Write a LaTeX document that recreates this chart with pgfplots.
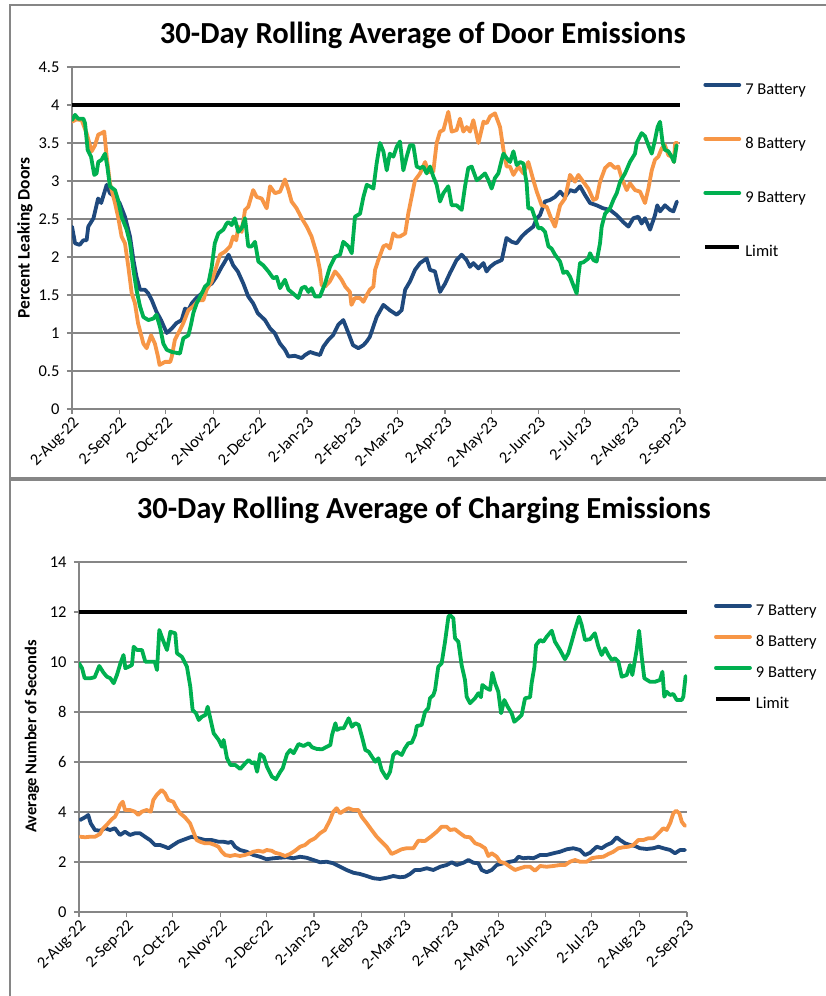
\documentclass[border=0pt]{standalone}
\usepackage{pgfplots}
\pgfplotsset{compat=1.18}
\usepackage{fontspec}
\setmainfont{Carlito}
\definecolor{bat7}{RGB}{31,73,125}
\definecolor{bat8}{RGB}{247,150,70}
\definecolor{bat9}{RGB}{0,176,80}
\definecolor{gridgray}{RGB}{134,134,134}
\pgfplotsset{
  excelstyle/.style={
    anchor=south west, scale only axis, width=608bp,
    xmin=0, xmax=396,
    xtick={0,31,61,92,122,153,184,212,243,273,304,334,365,396},
    xticklabels={2-Aug-22,2-Sep-22,2-Oct-22,2-Nov-22,2-Dec-22,2-Jan-23,2-Feb-23,2-Mar-23,2-Apr-23,2-May-23,2-Jun-23,2-Jul-23,2-Aug-23,2-Sep-23},
    xticklabel style={rotate=45, anchor=north east, inner sep=1bp},
    yticklabel style={xshift=-4bp},
    /pgf/number format/assume math mode=true,
    tick label style={font=\fontsize{16.5bp}{19bp}\selectfont, black},
    axis x line*=bottom, axis y line*=left,
    axis line style={gridgray, line width=1.3bp, -},
    tick style={gridgray, line width=1.3bp},
    tick align=outside, major tick length=5bp,
    ymajorgrids, grid style={gridgray, line width=1.3bp},
    every axis plot/.append style={line width=3.8bp, line join=round, line cap=round, mark=none},
    legend cell align=left,
    legend image code/.code={\draw[#1] (0bp,5.3bp) -- (34bp,5.3bp);},
    ylabel style={font=\bfseries\fontsize{16.5bp}{19bp}\selectfont, anchor=center},
    title style={font=\bfseries\fontsize{30.6bp}{34bp}\selectfont, anchor=base},
  }
}
\begin{document}
\begin{tikzpicture}
\useasboundingbox (0,0) rectangle (826bp,996bp);
\fill[white] (0,0) rectangle (826bp,996bp);
\draw[gridgray, line width=1.3bp] (10bp,518bp) rectangle (840bp,991bp);
\draw[gridgray, line width=1.3bp] (10bp,-10bp) -- (10bp,516bp) -- (840bp,516bp);

% ---------- Door emissions ----------
\begin{axis}[excelstyle,
  at={(72bp,587bp)}, height=342bp,
  ymin=0, ymax=4.5, ytick={0,0.5,1,1.5,2,2.5,3,3.5,4,4.5},
  title={30-Day Rolling Average of Door Emissions},
  title style={at={(axis description cs:0.577,1.052)}},
  ylabel={Percent Leaking Doors},
  ylabel style={at={(axis description cs:-0.0773,0.5)}, font=\bfseries\fontsize{17.5bp}{19bp}\selectfont},
  legend style={at={(axis description cs:1.038,0.956)}, anchor=north west, draw=none, fill=none, inner sep=0pt, row sep=38bp, column sep=4bp,
    font=\fontsize{16.5bp}{19bp}\selectfont, nodes={inner sep=0pt, text height=12bp, text depth=4bp}},
]
\addplot[bat7] coordinates {(0,2.40) (2,2.18) (5,2.16) (7.4,2.22) (9.5,2.22) (10.6,2.40) (14,2.51) (17,2.77) (19,2.71) (22.6,2.95) (24.7,2.84) (28,2.79) (31,2.71) (34.5,2.53) (37.8,2.27) (40,1.96) (42,1.74) (44.3,1.57) (47.5,1.57) (49.7,1.52) (52,1.43) (55,1.28) (58,1.17) (61.7,1.00) (65,1.06) (68,1.13) (71.4,1.17) (73.6,1.32) (75.8,1.30) (78,1.39) (81,1.46) (84.5,1.52) (87.7,1.61) (91,1.65) (94,1.74) (97.5,1.87) (99.6,1.94) (102,2.03) (105,1.89) (108,1.81) (111.6,1.65) (114.8,1.48) (118,1.39) (121,1.26) (125.7,1.17) (129,1.06) (132,1.00) (135.5,0.86) (138.7,0.78) (141,0.69) (145,0.70) (149.6,0.67) (151.8,0.71) (155,0.75) (158,0.73) (161.5,0.71) (163.7,0.82) (167,0.91) (170,0.97) (173.5,1.11) (176.7,1.17) (180,1.00) (183,0.84) (186.5,0.80) (189.8,0.84) (192,0.89) (194,0.95) (198.4,1.21) (202.8,1.37) (207,1.30) (211.5,1.24) (214.7,1.30) (217,1.57) (220.2,1.68) (223.4,1.83) (226.7,1.92) (231,1.98) (233.2,1.83) (236.4,1.81) (239.7,1.54) (243,1.65) (246.2,1.79) (250.5,1.96) (253.8,2.03) (257,1.96) (259.2,1.87) (261.4,1.92) (264.7,1.85) (268,1.92) (270,1.81) (272.3,1.87) (275.5,1.92) (279.9,1.96) (283,2.25) (286.4,2.20) (289.6,2.18) (292.9,2.27) (296,2.33) (300.5,2.40) (302.7,2.51) (304.8,2.55) (308,2.73) (311.3,2.75) (314.6,2.79) (317.9,2.86) (321,2.79) (324.4,2.88) (327.6,2.86) (330.9,2.93) (334,2.82) (337.4,2.71) (341.7,2.68) (346,2.64) (350.4,2.62) (354.8,2.55) (359,2.46) (362.4,2.40) (365.6,2.51) (368.9,2.53) (371,2.44) (373.2,2.51) (376.5,2.36) (379.7,2.55) (381.2,2.68) (383,2.60) (386.2,2.68) (389.5,2.62) (391.7,2.60) (394,2.73)};
\addlegendentry{7 Battery}
\addplot[bat8] coordinates {(0,3.78) (3,3.81) (6.3,3.80) (9.5,3.63) (12.8,3.39) (15,3.47) (17.1,3.61) (19.3,3.63) (21,3.65) (22.6,3.32) (24.7,2.97) (28,2.71) (30,2.53) (32.3,2.27) (34.5,2.18) (36.7,1.87) (38.9,1.52) (41,1.39) (43,1.13) (46.5,0.86) (48.6,0.80) (51.5,0.97) (54,0.86) (56,0.69) (57,0.58) (60.6,0.62) (64,0.62) (65,0.69) (67,0.91) (70.3,1.04) (72.5,1.13) (75.8,1.30) (79,1.35) (82.3,1.43) (85.5,1.43) (87.7,1.57) (91,1.68) (94,1.87) (96.4,2.03) (99.6,2.07) (103,2.14) (105,2.27) (107,2.22) (108.3,2.40) (110.5,2.33) (112.7,2.62) (114.8,2.66) (118,2.88) (120.3,2.79) (123.5,2.77) (126.8,2.64) (129,2.93) (132.2,2.84) (135.5,2.86) (138.7,3.02) (141,2.88) (143,2.73) (146.3,2.64) (149.6,2.51) (152.9,2.40) (156,2.27) (159.3,2.05) (161.5,1.83) (162.6,1.63) (164.8,1.61) (168,1.68) (171.3,1.81) (173.5,1.76) (175.6,1.70) (178,1.61) (181,1.54) (182,1.37) (184.3,1.46) (187.6,1.46) (189.8,1.41) (192,1.50) (194,1.57) (196.3,1.61) (197.4,1.83) (199.5,1.96) (202.8,2.14) (205,2.16) (207,2.11) (209.3,2.31) (211.5,2.27) (213.6,2.27) (217,2.31) (219,2.57) (221.2,2.79) (223.4,3.01) (226.7,3.10) (230,3.25) (232,3.12) (235.3,3.12) (237.5,3.50) (239.7,3.65) (241.9,3.67) (245.1,3.91) (247.3,3.65) (250.5,3.67) (252.7,3.82) (254.9,3.65) (257.1,3.71) (259.2,3.65) (261.4,3.80) (264.7,3.50) (268,3.78) (270.1,3.76) (272.3,3.85) (275.5,3.89) (278.8,3.71) (281,3.41) (283.1,3.19) (285.3,3.19) (287.5,3.08) (290.7,3.19) (294,3.10) (297.2,3.25) (300.5,3.01) (302.7,2.86) (305.9,2.68) (309.2,2.66) (312.4,2.49) (314.6,2.40) (317.9,2.68) (321.1,2.77) (324.4,3.08) (327.6,2.99) (329.8,3.08) (333,2.99) (336.3,2.90) (339.6,2.75) (341.7,2.77) (343.9,2.99) (347.2,3.17) (350.4,3.23) (353.7,3.17) (355.8,3.19) (358,3.04) (361.3,2.88) (363.4,2.97) (366.7,2.88) (370,2.86) (373.2,2.71) (375.4,2.90) (377.6,3.14) (379.7,3.28) (381.9,3.32) (384.1,3.43) (386.2,3.47) (388.4,3.34) (390.6,3.32) (392.1,3.25) (392.8,3.50) (394.3,3.50)};
\addlegendentry{8 Battery}
\addplot[bat9] coordinates {(0,3.80) (2,3.87) (4,3.82) (7.4,3.82) (8.5,3.76) (10.2,3.41) (12.4,3.32) (14.5,3.08) (16,3.10) (17.1,3.25) (19.3,3.28) (21.5,3.36) (23,3.19) (24.7,2.93) (28,2.88) (30,2.75) (32.3,2.53) (35.6,2.36) (37.8,2.18) (40,1.83) (42,1.57) (44.3,1.35) (46.5,1.21) (49.7,1.17) (53,1.19) (55,1.24) (57.3,1.08) (59.5,0.86) (61.7,0.78) (65,0.75) (70.3,0.73) (72.5,0.93) (75.8,0.97) (77.5,1.11) (79,1.26) (81.2,1.39) (84.5,1.52) (86.6,1.61) (88.8,1.65) (91,1.87) (93,2.18) (95.3,2.31) (98.6,2.36) (100.7,2.44) (101.8,2.46) (104,2.42) (106,2.51) (108.3,2.33) (110.5,2.38) (112.7,2.51) (114.8,2.14) (117,2.14) (119.2,2.20) (121.4,1.94) (124.6,1.89) (127.9,1.81) (131.1,1.72) (133.3,1.74) (135.5,1.59) (138.7,1.70) (141,1.57) (144,1.52) (147.4,1.46) (149.6,1.59) (151.8,1.61) (154,1.54) (156,1.59) (158.3,1.48) (161.5,1.48) (164.8,1.65) (168,1.87) (171.3,2.00) (174.6,2.03) (176.7,2.20) (180,2.14) (182.2,2.05) (184.3,2.53) (187.6,2.57) (189.8,2.79) (192,2.95) (194,2.93) (196.3,2.90) (198.4,3.23) (200.6,3.50) (202.8,3.39) (205,3.14) (207,3.36) (209.3,3.32) (211.5,3.45) (213.6,3.52) (215.8,3.14) (218,3.32) (220.1,3.47) (222.3,3.47) (224.5,3.19) (226.7,3.17) (228.8,3.19) (231,3.10) (233.2,3.19) (235.3,3.06) (237.5,2.95) (239.7,2.73) (241.9,2.84) (245.1,2.93) (247.3,2.68) (250.5,2.68) (253.8,2.62) (256,2.93) (258.1,3.17) (260.3,3.19) (263.6,3.01) (265.7,3.04) (269,3.10) (271.2,3.01) (273.3,2.90) (275.5,3.04) (277.7,3.10) (279.9,3.28) (281,3.36) (283.1,3.30) (285.3,3.25) (287.5,3.39) (289.6,3.21) (291.8,3.25) (294,3.23) (296.1,2.97) (297.2,2.64) (299.4,2.64) (301.6,2.51) (303.7,2.38) (305.9,2.38) (308.1,2.33) (310.3,2.14) (312.4,2.11) (314.6,2.03) (317.9,1.94) (320,1.79) (322.2,1.81) (324.4,1.74) (326.5,1.63) (328.7,1.52) (329.8,1.74) (330.9,1.92) (333,1.93) (336.3,1.98) (337.4,2.05) (339.6,1.96) (341.7,1.94) (343.9,2.18) (345,2.40) (347.2,2.57) (350.4,2.64) (352.6,2.75) (354.8,2.84) (357,2.99) (360.2,3.10) (363.4,3.25) (366.7,3.36) (367.8,3.50) (371,3.63) (373.2,3.59) (375.4,3.47) (377.6,3.36) (379.7,3.54) (381.4,3.71) (383,3.78) (384.7,3.50) (386.2,3.41) (388.4,3.39) (390.6,3.32) (392.1,3.25) (393.8,3.47)};
\addlegendentry{9 Battery}
\addplot[black, line width=4bp, line cap=butt] coordinates {(0,4) (396,4)};
\addlegendentry{Limit}
\end{axis}

% ---------- Charging emissions ----------
\begin{axis}[excelstyle,
  at={(79bp,84bp)}, height=350bp,
  ymin=0, ymax=14, ytick={0,2,4,6,8,10,12,14},
  title={30-Day Rolling Average of Charging Emissions},
  title style={at={(axis description cs:0.567,1.106)}},
  ylabel={Average Number of Seconds},
  ylabel style={at={(axis description cs:-0.0773,0.501)}},
  legend style={at={(axis description cs:1.044,0.883)}, anchor=north west, draw=none, fill=none, inner sep=0pt, row sep=15bp, column sep=4bp,
    font=\fontsize{16.5bp}{19bp}\selectfont, nodes={inner sep=0pt, text height=12bp, text depth=4bp}},
]
\addplot[bat7] coordinates {(0.7,3.68) (4,3.79) (6,3.88) (7.6,3.55) (10.4,3.28) (13.7,3.25) (17,3.35) (20.2,3.28) (23.4,3.35) (26.7,3.08) (30,3.21) (33.2,3.08) (36.5,3.15) (39.7,3.15) (43,3.01) (46.2,2.88) (49.5,2.68) (52.8,2.68) (56,2.61) (58.2,2.55) (61.4,2.68) (64.7,2.81) (69,2.91) (73.4,3.01) (77.7,2.95) (82,2.88) (86.4,2.88) (90.8,2.81) (94,2.81) (97.3,2.77) (99.4,2.81) (101.6,2.61) (104.9,2.48) (109.2,2.41) (113.5,2.28) (117.9,2.21) (122.2,2.11) (126.6,2.15) (130.9,2.17) (135.3,2.19) (139.6,2.15) (144,2.21) (148.3,2.17) (152.6,2.08) (157,1.99) (161.3,2.01) (165.6,1.95) (170,1.81) (174.3,1.68) (178.7,1.57) (183,1.52) (187.4,1.44) (191.7,1.35) (196,1.32) (200.4,1.37) (204.7,1.44) (209,1.39) (212.3,1.41) (215.6,1.52) (218.8,1.68) (222.1,1.68) (226.5,1.75) (230.8,1.68) (235.2,1.81) (239.5,1.88) (242.8,1.99) (246,1.88) (250.4,1.97) (253.6,2.08) (256.9,1.97) (260.1,1.95) (262.3,1.68) (265.5,1.59) (268.8,1.68) (272.1,1.88) (276.4,1.95) (280.7,2.01) (284,2.05) (286.2,2.21) (289.4,2.15) (292.7,2.17) (296,2.15) (300.3,2.28) (304.6,2.28) (309,2.35) (313.3,2.41) (317.7,2.51) (322,2.55) (326.3,2.48) (329.6,2.28) (332.9,2.37) (337.2,2.61) (340.4,2.55) (343.7,2.68) (347,2.77) (350.2,2.99) (352.4,2.88) (355.6,2.75) (358.9,2.68) (362.2,2.64) (365.4,2.55) (369.8,2.52) (374.1,2.55) (377.4,2.61) (380.6,2.55) (385,2.48) (388.2,2.35) (391.5,2.48) (394.7,2.48)};
\addlegendentry{7 Battery}
\addplot[bat8] coordinates {(0.7,3.01) (4,2.99) (7.2,3.01) (10.4,3.01) (13.7,3.12) (15.8,3.35) (18,3.48) (21.3,3.71) (23.4,3.81) (25,4.01) (26.7,4.28) (28.5,4.41) (30,4.08) (33.2,4.08) (36.5,4.01) (38.6,3.88) (40.8,4.01) (44,4.08) (46.7,4.01) (48.4,4.48) (50.6,4.68) (53.8,4.88) (56,4.75) (58.2,4.48) (61.4,4.41) (63.6,4.15) (65.8,3.95) (69,3.79) (72.3,3.55) (74.5,3.21) (76.6,2.88) (78.8,2.81) (82,2.75) (85.3,2.75) (88.5,2.68) (90.8,2.61) (93,2.41) (95.2,2.28) (98.4,2.24) (101.6,2.28) (104.9,2.24) (108.1,2.28) (111.4,2.35) (113.5,2.41) (116.8,2.45) (120,2.41) (122.2,2.48) (125.5,2.45) (127.7,2.37) (130.9,2.32) (134.2,2.24) (137.4,2.32) (140.7,2.45) (144,2.61) (147.2,2.68) (150.5,2.85) (153.7,2.95) (157,3.15) (160.2,3.28) (163.5,3.68) (165.6,4.01) (167.8,4.15) (170,3.95) (173.3,4.08) (175.4,4.15) (178.7,4.08) (182,4.08) (184.1,3.81) (187.4,3.55) (190.6,3.28) (193.9,3.01) (197.1,2.81) (200.4,2.61) (203.6,2.32) (206.9,2.41) (210.2,2.51) (213.4,2.55) (217.8,2.55) (221,2.85) (225.4,2.84) (229.7,3.04) (233,3.21) (236.2,3.41) (239.5,3.41) (241.7,3.28) (244.9,3.31) (248.2,3.15) (251.4,3.01) (254.7,2.99) (258,2.75) (261.2,2.68) (264.5,2.55) (266.6,2.24) (268.8,2.35) (272.1,2.21) (274.2,2.01) (277.5,1.95) (280.7,1.81) (284,1.68) (287.3,1.75) (290.5,1.81) (293.8,1.81) (297,1.65) (300.3,1.84) (304.6,1.81) (309,1.84) (313.3,1.88) (316.6,1.88) (319.8,2.01) (323.1,2.08) (326.3,2.01) (330.7,2.01) (333.9,2.15) (337.2,2.19) (341.5,2.21) (344.8,2.32) (348,2.41) (351.3,2.55) (354.6,2.59) (357.8,2.61) (361.1,2.68) (364.3,2.88) (367.6,2.88) (370.8,2.95) (374.1,2.95) (376.3,3.08) (378.4,3.21) (380.6,3.35) (382.8,3.28) (385,3.55) (387.1,3.95) (388.9,4.05) (391,3.95) (392.6,3.61) (394.7,3.44)};
\addlegendentry{8 Battery}
\addplot[bat9] coordinates {(0,9.95) (2,9.75) (3.7,9.35) (7.4,9.35) (10.2,9.39) (13.2,9.84) (16,9.57) (18.2,9.41) (20.4,9.35) (22.6,9.15) (24.7,9.48) (27,9.95) (29,10.28) (30.2,9.75) (32.3,9.81) (34.5,9.88) (35.6,10.61) (37.8,10.48) (41,10.48) (43.2,10.01) (46.5,10.01) (49.3,10.01) (50.8,9.68) (52.3,11.28) (55.1,10.81) (57.3,10.48) (59.5,11.21) (62.7,11.15) (63.8,10.35) (67,10.21) (70.3,9.81) (72.5,9.01) (74,8.08) (76.2,7.95) (78,7.68) (80,7.81) (82.3,7.88) (83.8,8.21) (85.5,7.75) (87.7,7.15) (91,6.88) (93.1,6.61) (94.2,6.88) (96.4,6.15) (98.6,5.88) (101.8,5.88) (105,5.72) (108.3,5.95) (110.5,6.08) (112.7,5.95) (114.4,5.99) (116,5.61) (118,6.32) (120.3,6.21) (122.4,5.81) (125.7,5.41) (128.3,5.31) (131.1,5.61) (132.7,5.75) (135.5,6.32) (137.6,6.48) (139.8,6.35) (143,6.72) (146.3,6.64) (149.6,6.75) (151.8,6.59) (155,6.52) (158.3,6.51) (161.5,6.61) (163.7,6.68) (164.8,7.08) (167,7.55) (168,7.28) (170.2,7.35) (172.4,7.35) (173.5,7.48) (175.6,7.75) (177.8,7.41) (180,7.55) (182.2,7.48) (184.3,7.01) (186.5,6.48) (188.7,6.41) (190.8,6.21) (193,6.01) (195,6.15) (197.1,5.68) (200.4,5.35) (202.6,5.61) (204.7,6.28) (206.9,6.41) (210.2,6.28) (212.3,6.55) (214.5,6.75) (216.7,6.77) (218.9,7.08) (220,7.44) (223.2,7.48) (225.4,8.01) (227.5,8.15) (228.6,8.55) (230.8,8.68) (231.9,8.88) (234,9.81) (236.2,9.95) (238.4,10.81) (240.6,11.81) (241.6,11.88) (243.8,11.75) (244.9,10.95) (247.1,10.81) (249.2,9.88) (251.4,9.28) (252.5,8.61) (254.7,8.35) (257.9,8.55) (260.1,8.75) (261.8,8.59) (262.7,9.08) (265.5,8.95) (267.7,8.88) (269.2,9.57) (271,9.15) (273.1,8.81) (274.9,7.95) (277,8.48) (279.2,8.21) (281.8,7.95) (283.5,7.61) (286.2,7.75) (288.3,7.88) (290.5,8.55) (293.8,8.59) (294.8,9.15) (296.6,9.81) (297.7,10.68) (300.3,10.88) (302.4,10.81) (304.6,11.01) (307.9,11.25) (310,10.81) (313.3,10.48) (316.5,10.11) (318.7,10.35) (320.9,10.81) (323,11.28) (325.7,11.81) (327.4,11.48) (329.6,10.88) (332.8,10.91) (336,11.15) (338.3,10.61) (340.4,10.28) (342.6,10.55) (344.8,10.28) (347,10.08) (349.1,10.15) (351.3,10.01) (353.5,9.41) (356.7,9.48) (358.9,9.88) (360.4,9.48) (363.2,10.48) (364.8,11.25) (366.5,10.21) (368.2,9.35) (371.9,9.21) (375.2,9.21) (378.4,9.28) (380,9.61) (381.2,8.61) (382.8,8.81) (384.9,8.68) (387.1,8.72) (389.3,8.48) (392.5,8.48) (393.6,8.61) (395.1,9.44)};
\addlegendentry{9 Battery}
\addplot[black, line width=4bp, line cap=butt] coordinates {(0,12) (396,12)};
\addlegendentry{Limit}
\end{axis}
\end{tikzpicture}
\end{document}
